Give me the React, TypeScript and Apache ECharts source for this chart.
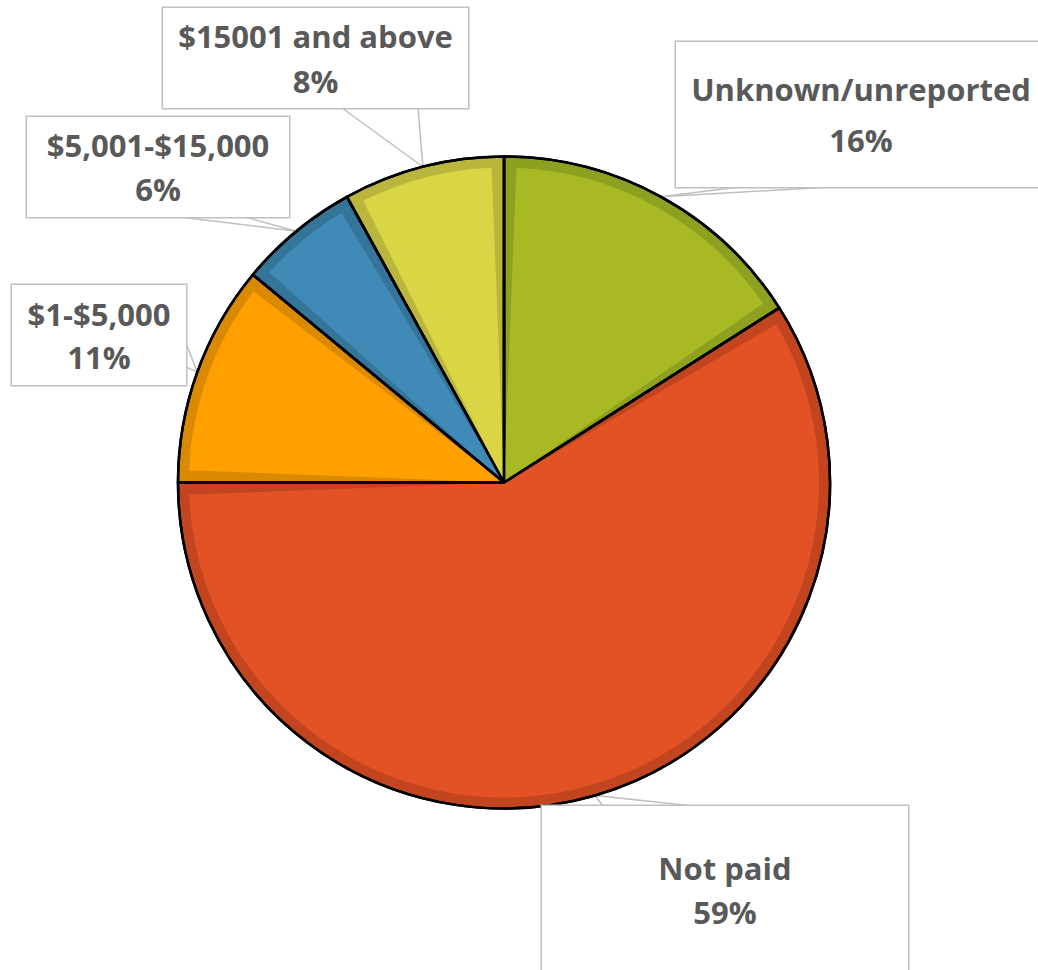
import React, { useEffect, useRef } from "react";
import * as echarts from "echarts";

const categories = ["Unknown/unreported", "Not paid", "$1-$5,000", "$5,001-$15,000", "$15001 and above"];
const values = [16, 59, 11, 6, 8];

const lightColors = ["#A9B924", "#E25225", "#FFA000", "#3F8AB7", "#DAD544"];
const darkColors = ["#8EA020", "#C24520", "#D98A00", "#357599", "#BAB53C"];

// label callout boxes: left, top, width, height, lineHeight, and the two points on the box edge
// where the callout pointer starts
const labelBoxes = [
  { left: 676, top: 42, width: 370, height: 145, lh: 51, p1: [739, 187], p2: [830, 187] },
  { left: 542, top: 806, width: 366, height: 168, lh: 44, p1: [603, 806], p2: [693, 806] },
  { left: 12, top: 285, width: 174, height: 100, lh: 43, p1: [186, 343], p2: [186, 367] },
  { left: 27, top: 117, width: 262, height: 100, lh: 44, p1: [180, 217], p2: [245, 217] },
  { left: 163, top: 8, width: 305, height: 100, lh: 45, p1: [342, 108], p2: [418, 108] },
];

const CENTER = [504, 482.5];
const R = 326;

export default function App() {
  const ref = useRef<HTMLDivElement>(null);
  useEffect(() => {
    if (!ref.current) return;
    const chart = echarts.init(ref.current, null, { renderer: "svg" });
    const baseData = categories.map((name, i) => ({ name, value: values[i] }));
    const option: any = {
      animation: false,
      backgroundColor: "#ffffff",
      series: [
        {
          type: "pie",
          silent: true,
          center: CENTER,
          radius: R,
          startAngle: 90,
          clockwise: true,
          avoidLabelOverlap: false,
          label: { show: false },
          labelLine: { show: false },
          emphasis: { disabled: true },
          data: baseData.map((d, i) => ({
            ...d,
            itemStyle: { color: darkColors[i], borderColor: "#000", borderWidth: 2.5 },
          })),
        },
        {
          type: "pie",
          silent: true,
          center: CENTER,
          radius: R - 11,
          startAngle: 90,
          clockwise: true,
          padAngle: 4.5,
          avoidLabelOverlap: false,
          label: { show: false },
          labelLine: { show: false },
          emphasis: { disabled: true },
          data: baseData.map((d, i) => ({
            ...d,
            itemStyle: { color: lightColors[i], borderWidth: 0 },
          })),
        },
        {
          type: "pie",
          silent: true,
          center: CENTER,
          radius: R,
          startAngle: 90,
          clockwise: true,
          avoidLabelOverlap: false,
          emphasis: { disabled: true },
          itemStyle: { color: "rgba(0,0,0,0)", borderColor: "#000", borderWidth: 2.5 },
          label: {
            show: true,
            position: "outside",
            formatter: (p: any) => `${p.name}\n${Math.round(p.percent)}%`,
            fontFamily: "Open Sans",
            fontWeight: "bold",
            fontSize: 31,
            color: "#595959",
            backgroundColor: "#ffffff",
            borderColor: "#BFBFBF",
            borderWidth: 1.5,
            align: "center",
          },
          labelLine: {
            show: true,
            length: 10,
            length2: 0,
            lineStyle: { color: "#BFBFBF", width: 1.5 },
          },
          labelLayout: (params: any) => {
            const b = labelBoxes[params.dataIndex];
            const res: any = { x: b.left + b.width / 2, y: b.top, align: "center", verticalAlign: "top" };
            const pts = params.labelLinePoints;
            if (pts && pts.length) {
              res.labelLinePoints = [b.p1, pts[0], b.p2];
            }
            return res;
          },
          data: baseData.map((d, i) => {
            const b = labelBoxes[i];
            const pad = (b.height - 2 * b.lh) / 2;
            return {
              ...d,
              label: { width: b.width, lineHeight: b.lh, padding: [pad, 0, pad, 0] },
            };
          }),
        },
      ],
    };
    chart.setOption(option);
    return () => chart.dispose();
  }, []);
  return (
    <div
      ref={ref}
      style={{ position: "absolute", left: 0, top: 0, width: 1038, height: 970 }}
    />
  );
}
